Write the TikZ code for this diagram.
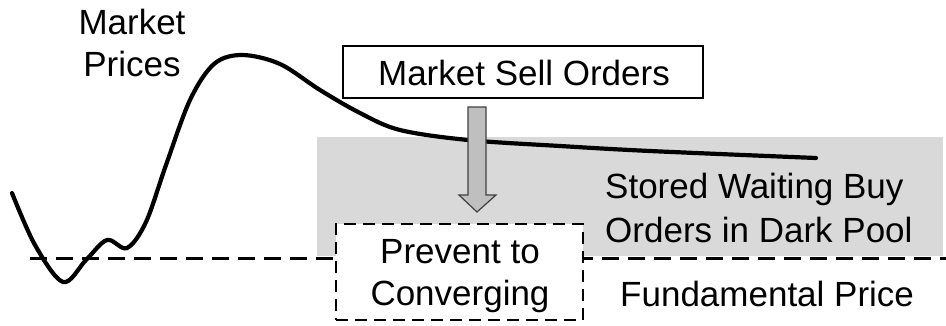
\documentclass[tikz,border=0pt]{standalone}
\usepackage{fontspec}
\setmainfont{Liberation Sans}
\begin{document}
\begin{tikzpicture}[x=1pt,y=-1pt,
  lbl/.style={inner sep=0pt,font=\fontsize{35}{40}\selectfont},
  pool/.style={fill=black!15,draw=none},
  fundline/.style={line width=3pt,dash pattern=on 17pt off 9pt},
  price/.style={line width=4.2pt,line cap=round},
  sellbox/.style={draw,line width=2pt,fill=white},
  prevbox/.style={draw,line width=2.8pt,dash pattern=on 12pt off 7pt,fill=white},
  blockarrow/.style={fill=black!25,draw=black!75,line width=1.2pt}]
\useasboundingbox (0,0) rectangle (946,325);
% dark pool area
\fill[pool] (317,137) rectangle (943,256);
% fundamental price line
\coordinate (fl) at (30,258);
\coordinate (fr) at (946,258);
\draw[fundline] (fl) -- (fr);
% market price curve
\draw[price] plot[smooth,tension=0.55] coordinates {
 (12,193) (35,245) (63,282) (86,260) (107,240) (127,248) (146,222)
 (166,165) (190,100) (214,64) (242,55) (280,64) (320,90) (360,113)
 (400,130) (468,140) (560,146) (650,151) (816,158)};
% prevent box
\node[prevbox,minimum width=247pt,minimum height=96pt] (prev) at (459.5,272) {};
% sell box
\node[sellbox,minimum width=360pt,minimum height=52pt] (sell) at (523,72) {};
% block arrow
\coordinate (a1) at (468,107);
\draw[blockarrow] (a1) -- (486,107) -- (486,195) -- (496,195) -- (477,212)
  -- (459,195) -- (468,195) -- cycle;
% texts
\node[lbl,anchor=base] (mk1) at (132,34) {Market};
\node[lbl,anchor=base] (mk2) at (132,76) {Prices};
\node[lbl,anchor=base] (st) at (524,85) {Market Sell Orders};
\node[lbl,anchor=base west] (sw1) at (605,198) {Stored Waiting Buy};
\node[lbl,anchor=base west] (sw2) at (605,242) {Orders in Dark Pool};
\node[lbl,anchor=base] (pv1) at (460,263) {Prevent to};
\node[lbl,anchor=base] (pv2) at (460,305) {Converging};
\node[lbl,anchor=base west] (fp) at (620,306) {Fundamental Price};
\end{tikzpicture}
\end{document}
